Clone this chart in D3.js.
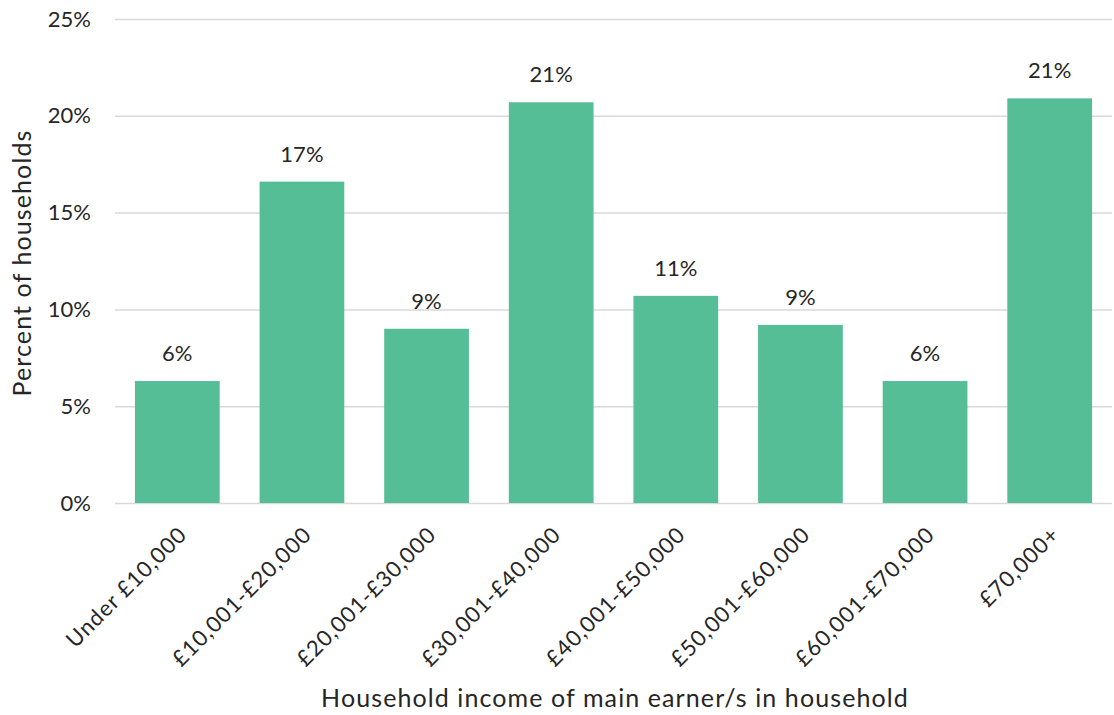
<!DOCTYPE html>
<html>
<head>
<meta charset="utf-8">
<script src="https://cdn.jsdelivr.net/npm/d3@7/dist/d3.min.js"></script>
<style>
  html, body { margin: 0; padding: 0; background: #fff; }
  svg text { font-family: Lato, "Open Sans", sans-serif; fill: #262626; }
</style>
</head>
<body>
<svg id="chart" width="1114" height="715"></svg>
<script>
// Share of households by income band of the main earner(s)
const categories = ["Under £10,000", "£10,001-£20,000", "£20,001-£30,000", "£30,001-£40,000",
                    "£40,001-£50,000", "£50,001-£60,000", "£60,001-£70,000", "£70,000+"];
const shares = [0.063, 0.166, 0.090, 0.207, 0.107, 0.092, 0.063, 0.209];
const yTicks = [0, 0.05, 0.10, 0.15, 0.20, 0.25];
const xTitle = "Household income of main earner/s in household";
const yTitle = "Percent of households";

const svg = d3.select("#chart");
const plotLeft = 115, plotRight = 1112, plotTop = 19, plotBottom = 503;

const x = d3.scaleBand().domain(categories).range([plotLeft, plotRight])
  .paddingInner(0.32).paddingOuter(0.16);
const y = d3.scaleLinear().domain([0, 0.25]).range([plotBottom, plotTop]);
const pct = d3.format(".0%");

// gridlines + y tick labels
const yAxis = d3.axisLeft(y).tickValues(yTicks).tickFormat(pct)
  .tickSize(-(plotRight - plotLeft)).tickPadding(24);
const gy = svg.append("g").attr("transform", `translate(${plotLeft},0)`).call(yAxis);
gy.select(".domain").remove();
gy.selectAll(".tick line").attr("stroke", "#d9d9d9").attr("stroke-width", 1.5);
gy.selectAll(".tick text").attr("font-size", 22).attr("fill", "#262626");

// bars
svg.append("g").selectAll("rect").data(shares).join("rect")
  .attr("x", (d, i) => x(categories[i]))
  .attr("width", x.bandwidth())
  .attr("y", d => y(d))
  .attr("height", d => y(0) - y(d))
  .attr("fill", "#55be96");

// value labels
svg.append("g").selectAll("text").data(shares).join("text")
  .attr("x", (d, i) => x(categories[i]) + x.bandwidth() / 2)
  .attr("y", d => y(d) - 20)
  .attr("text-anchor", "middle")
  .attr("font-size", 22)
  .text(d => pct(d));

// x category labels, rotated
const xAxis = d3.axisBottom(x).tickSize(0).tickPadding(0);
const gx = svg.append("g").attr("transform", `translate(0,${plotBottom})`).call(xAxis);
gx.select(".domain").remove();
gx.selectAll(".tick text")
  .attr("font-size", 22)
  .attr("letter-spacing", 1)
  .attr("fill", "#262626")
  .attr("text-anchor", "end")
  .attr("dy", null)
  .attr("y", 0)
  .attr("transform", "translate(11,33) rotate(-45)");

// axis titles
svg.append("text")
  .attr("x", 615).attr("y", 707)
  .attr("text-anchor", "middle").attr("font-size", 25)
  .attr("letter-spacing", 1.1)
  .text(xTitle);

svg.append("text")
  .attr("transform", `translate(31,${(plotTop + plotBottom) / 2 + 2}) rotate(-90)`)
  .attr("text-anchor", "middle").attr("font-size", 25)
  .attr("letter-spacing", 1.1)
  .text(yTitle);
</script>
</body>
</html>
